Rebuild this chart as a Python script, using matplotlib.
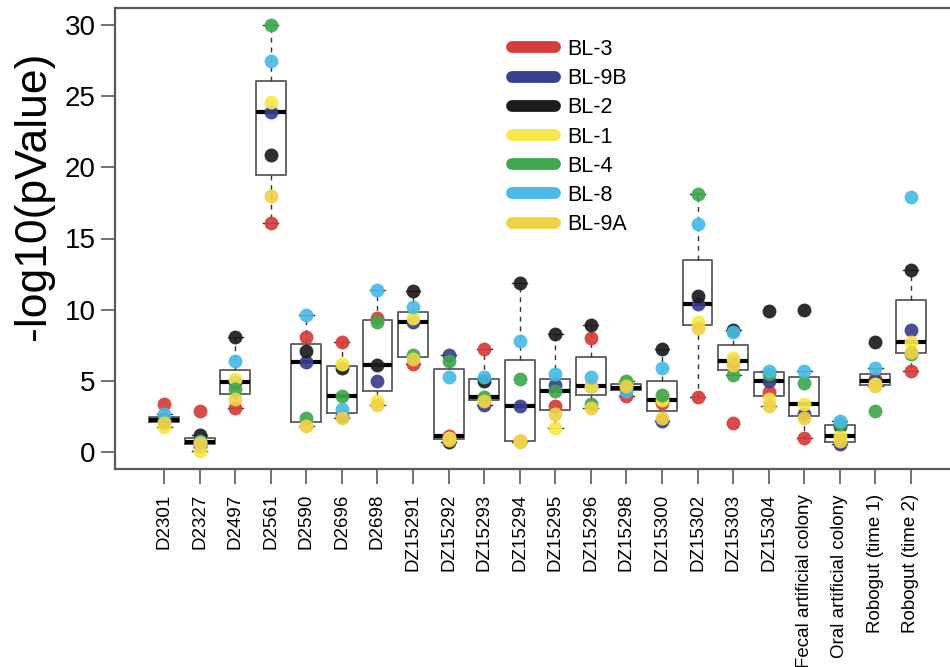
import matplotlib
matplotlib.use("Agg")
import matplotlib.pyplot as plt
from matplotlib.lines import Line2D
import numpy as np

plt.rcParams['font.family'] = ['Liberation Sans', 'DejaVu Sans']

categories = [
    "D2301", "D2327", "D2497", "D2561", "D2590", "D2696", "D2698",
    "DZ15291", "DZ15292", "DZ15293", "DZ15294", "DZ15295", "DZ15296",
    "DZ15298", "DZ15300", "DZ15302", "DZ15303", "DZ15304",
    "Fecal artificial colony", "Oral artificial colony",
    "Robogut (time 1)", "Robogut (time 2)",
]

series_names = ["BL-3", "BL-9B", "BL-2", "BL-1", "BL-4", "BL-8", "BL-9A"]
series_colors = ["#d63c38", "#3a3f90", "#1c1c1c", "#f7e84a", "#3ea84e", "#48bbe6", "#f0d247"]

bl3 = [3.4, 2.9, 3.1, 16.1, 8.1, 7.7, 9.4, 6.2, 1.1, 7.2, 0.75, 3.2, 8.0, 3.9, 3.45, 3.85, 2.0, 4.2, 1.0, 0.65, 5.1, 5.7]
bl9b = [2.3, 0.45, 4.9, 23.9, 6.3, 2.5, 5.0, 9.1, 6.8, 3.3, 3.2, 4.7, 4.6, 4.4, 2.2, 10.4, 6.4, 5.0, 2.7, 0.55, 5.0, 8.6]
bl2 = [2.25, 1.2, 8.1, 20.9, 7.1, 5.9, 6.1, 11.3, 0.7, 4.95, 11.9, 8.3, 8.9, 4.5, 7.2, 10.95, 8.6, 9.9, 10.0, 1.85, 7.75, 12.8]
bl1 = [1.75, 0.05, 5.1, 24.6, 1.9, 6.2, 3.55, 9.4, 1.0, 3.7, 0.8, 1.7, 4.65, 4.9, 3.65, 9.1, 6.6, 3.7, 3.4, 1.15, 4.8, 7.7]
bl4 = [2.2, 0.8, 4.4, 30.0, 2.35, 3.9, 9.1, 6.8, 6.4, 3.85, 5.1, 4.3, 3.4, 4.95, 4.0, 18.15, 5.4, 5.5, 4.85, 1.95, 2.9, 6.85]
bl8 = [2.65, 0.72, 6.4, 27.5, 9.6, 3.0, 11.4, 10.2, 5.3, 5.25, 7.8, 5.5, 5.3, 4.3, 5.9, 16.0, 8.4, 5.7, 5.7, 2.15, 5.9, 17.9]
bl9a = [2.0, 0.6, 3.7, 18.0, 1.8, 2.4, 3.3, 6.5, 0.85, 3.55, 0.7, 2.65, 3.1, 4.6, 2.35, 8.7, 6.1, 3.2, 2.4, 0.75, 4.65, 7.0]

series_values = [bl3, bl9b, bl2, bl1, bl4, bl8, bl9a]

y_ticks = [0, 5, 10, 15, 20, 25, 30]

W, H = 950, 667
fig = plt.figure(figsize=(W / 100, H / 100), dpi=100)
left_px, right_px, top_px, bottom_px = 115, 960, 8, 469
ax = fig.add_axes([left_px / W, (H - bottom_px) / H,
                   (right_px - left_px) / W, (bottom_px - top_px) / H])

n = len(categories)
positions = np.arange(1, n + 1)
data = np.array(series_values).T  # rows: categories, columns: series

frame_col = "#5a5a5a"
ax.boxplot(
    [row for row in data], positions=positions, widths=0.84,
    showfliers=False, whis=1.5, patch_artist=False,
    boxprops=dict(color=frame_col, linewidth=1.3),
    medianprops=dict(color="black", linewidth=3.0, solid_capstyle="butt"),
    whiskerprops=dict(color="#333333", linewidth=1.0, linestyle=(0, (3.5, 3.5))),
    capprops=dict(color="#333333", linewidth=1.0),
    zorder=2,
)

for vals, col in zip(series_values, series_colors):
    ax.scatter(positions, vals, s=100, color=col, alpha=0.92, linewidths=0, zorder=3)

ax.set_xlim(-0.38, n + 0.5 + 0.88)
ax.set_ylim(-1.2, 31.2)

ax.set_yticks(y_ticks)
ax.set_yticklabels([str(t) for t in y_ticks], fontsize=20)
ax.set_xticks(positions)
ax.set_xticklabels(categories, rotation=90, fontsize=13.5, va="top", ha="center")

ax.tick_params(axis="y", direction="out", length=10, width=1.2, color=frame_col, pad=4)
ax.tick_params(axis="x", direction="out", length=11, width=1.2, color=frame_col, pad=7)

for side in ["top", "left", "bottom", "right"]:
    ax.spines[side].set_color(frame_col)
    ax.spines[side].set_linewidth(1.6)

ax.set_ylabel("-log10(pValue)", fontsize=32)
ax.yaxis.set_label_coords((54 - left_px) / (right_px - left_px),
                          (bottom_px - 196) / (bottom_px - top_px))

handles = [Line2D([0], [0], color=c, lw=8.5, solid_capstyle="round") for c in series_colors]
ax.legend(handles, series_names, loc="upper left",
          bbox_to_anchor=((512 - left_px) / (right_px - left_px), (bottom_px - 39) / (bottom_px - top_px)),
          frameon=False, fontsize=15.5, handlelength=2.0, handletextpad=0.55,
          labelspacing=0.38, borderpad=0, borderaxespad=0)

fig.savefig("out.png", dpi=100)
